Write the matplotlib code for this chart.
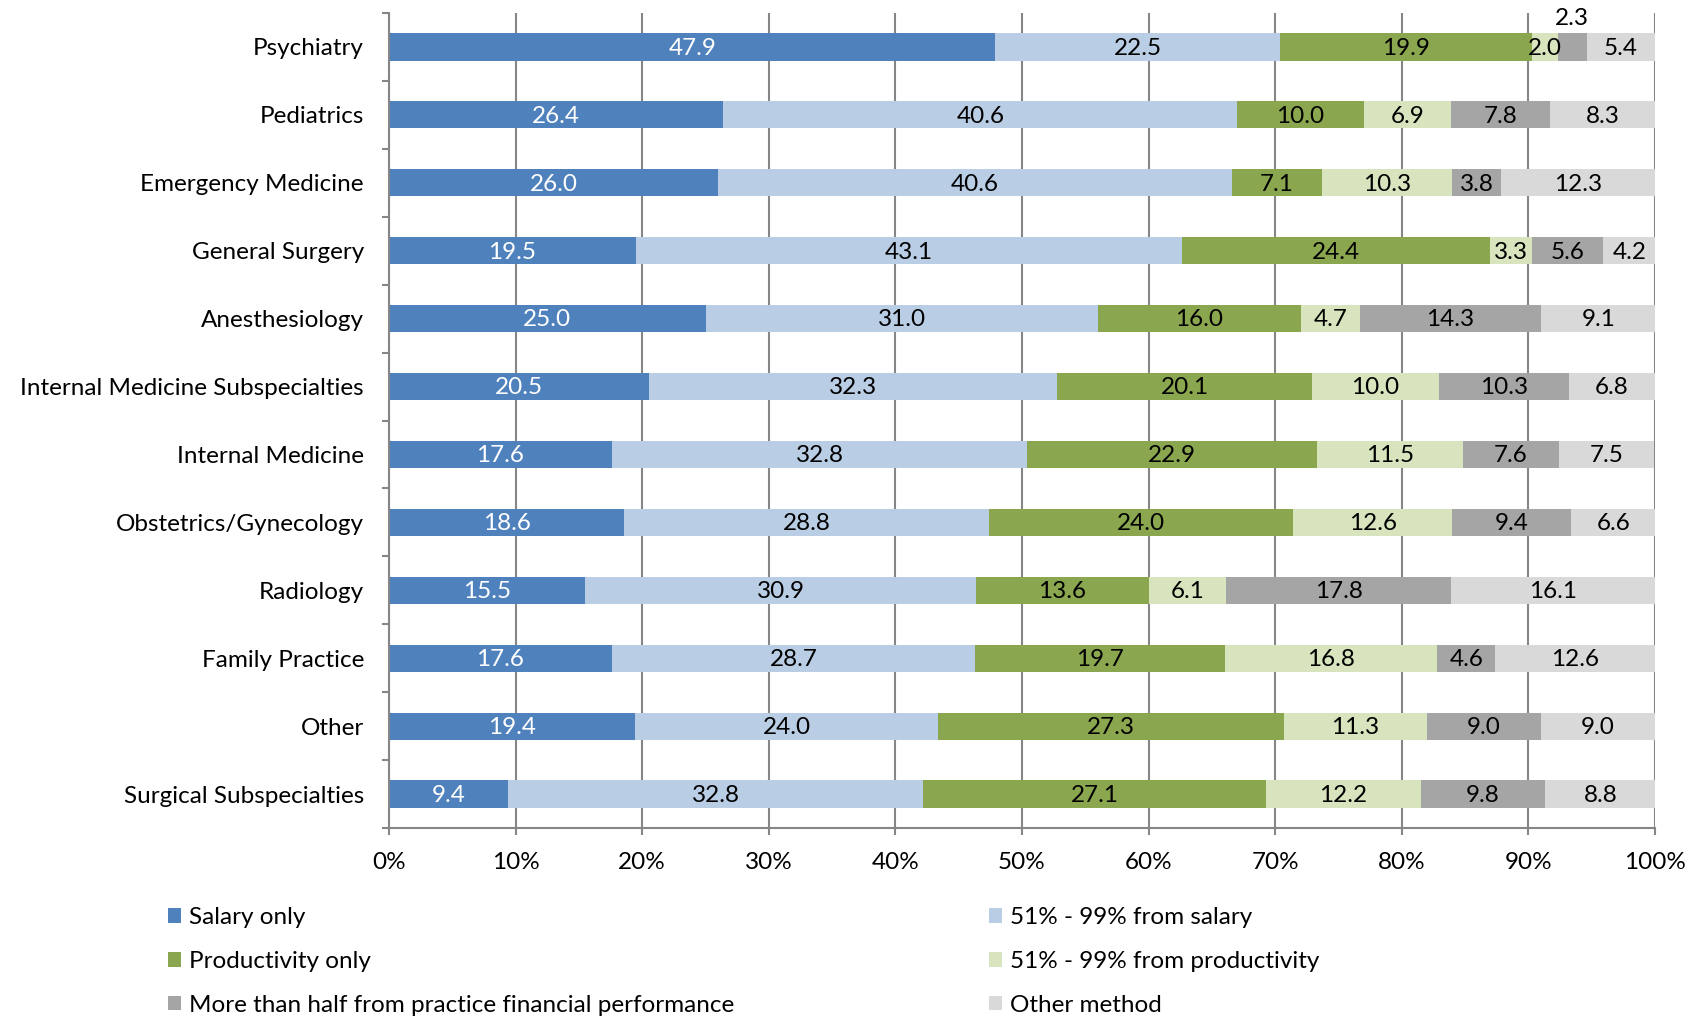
import matplotlib
matplotlib.use("Agg")
import matplotlib.pyplot as plt
import numpy as np

# specialties, top to bottom
categories = [
    "Psychiatry", "Pediatrics", "Emergency Medicine", "General Surgery",
    "Anesthesiology", "Internal Medicine Subspecialties", "Internal Medicine",
    "Obstetrics/Gynecology", "Radiology", "Family Practice", "Other",
    "Surgical Subspecialties",
]

salary_only        = [47.9, 26.4, 26.0, 19.5, 25.0, 20.5, 17.6, 18.6, 15.5, 17.6, 19.4, 9.4]
salary_51_99       = [22.5, 40.6, 40.6, 43.1, 31.0, 32.3, 32.8, 28.8, 30.9, 28.7, 24.0, 32.8]
productivity_only  = [19.9, 10.0, 7.1, 24.4, 16.0, 20.1, 22.9, 24.0, 13.6, 19.7, 27.3, 27.1]
productivity_51_99 = [2.0, 6.9, 10.3, 3.3, 4.7, 10.0, 11.5, 12.6, 6.1, 16.8, 11.3, 12.2]
practice_perf      = [2.3, 7.8, 3.8, 5.6, 14.3, 10.3, 7.6, 9.4, 17.8, 4.6, 9.0, 9.8]
other_method       = [5.4, 8.3, 12.3, 4.2, 9.1, 6.8, 7.5, 6.6, 16.1, 12.6, 9.0, 8.8]

series_names = [
    "Salary only", "51% - 99% from salary", "Productivity only",
    "51% - 99% from productivity",
    "More than half from practice financial performance", "Other method",
]
series_vals = [salary_only, salary_51_99, productivity_only,
               productivity_51_99, practice_perf, other_method]
colors = ["#4F81BD", "#B9CDE5", "#8AA64E", "#D7E4BD", "#A5A5A5", "#D9D9D9"]
label_colors = ["white", "black", "black", "black", "black", "black"]

# labels too narrow to sit inside their segment get lifted above the bar
lifted = {(0, 4): -0.44}

plt.rcParams["font.family"] = ["Lato", "DejaVu Sans"]
FS = 17.5

fig = plt.figure(figsize=(16.98, 10.17), dpi=100)
ax = fig.add_axes([389 / 1698, 1 - 828 / 1017, (1655 - 389) / 1698, (828 - 13) / 1017])

y = np.arange(len(categories))
left = np.zeros(len(categories))
for si, (vals, name, color, tcolor) in enumerate(zip(series_vals, series_names, colors, label_colors)):
    vals = np.array(vals)
    ax.barh(y, vals, left=left, height=0.4, color=color, label=name, zorder=2)
    for yi, (l, v) in enumerate(zip(left, vals)):
        ax.text(l + v / 2, yi + 0.02 + lifted.get((yi, si), 0), f"{v:.1f}",
                ha="center", va="center", color=tcolor, fontsize=FS, zorder=3)
    left += vals

ax.set_xlim(0, 100)
ax.set_ylim(len(categories) - 0.5, -0.5)
ax.set_xticks(np.arange(0, 101, 10))
ax.set_xticklabels([f"{v}%" for v in range(0, 101, 10)], fontsize=FS)
ax.set_yticks(y)
ax.set_yticklabels(categories, fontsize=FS)
ax.set_yticks(np.arange(-0.5, len(categories), 1), minor=True)
ax.tick_params(axis="y", which="major", length=0, pad=18)
ax.tick_params(axis="y", which="minor", length=5, width=1.5, color="#868686")
ax.tick_params(axis="x", length=5, width=1.5, color="#868686", pad=12)

ax.xaxis.grid(True, color="#868686", lw=1.5)
ax.set_axisbelow(True)
for side in ("top", "right"):
    ax.spines[side].set_visible(False)
for side in ("left", "bottom"):
    ax.spines[side].set_color("#868686")
    ax.spines[side].set_linewidth(1.5)

# legend reads row by row, so reorder for column-wise filling
handles, labels = ax.get_legend_handles_labels()
order = [0, 2, 4, 1, 3, 5]
fig.legend([handles[i] for i in order], [labels[i] for i in order],
           loc="upper left", bbox_to_anchor=(168 / 1698, 1 - 907 / 1017),
           ncol=2, frameon=False, fontsize=FS, handlelength=0.55,
           handleheight=0.55, handletextpad=0.3, labelspacing=0.94,
           columnspacing=10.5, borderaxespad=0, borderpad=0)

fig.savefig("out.png", dpi=100)
